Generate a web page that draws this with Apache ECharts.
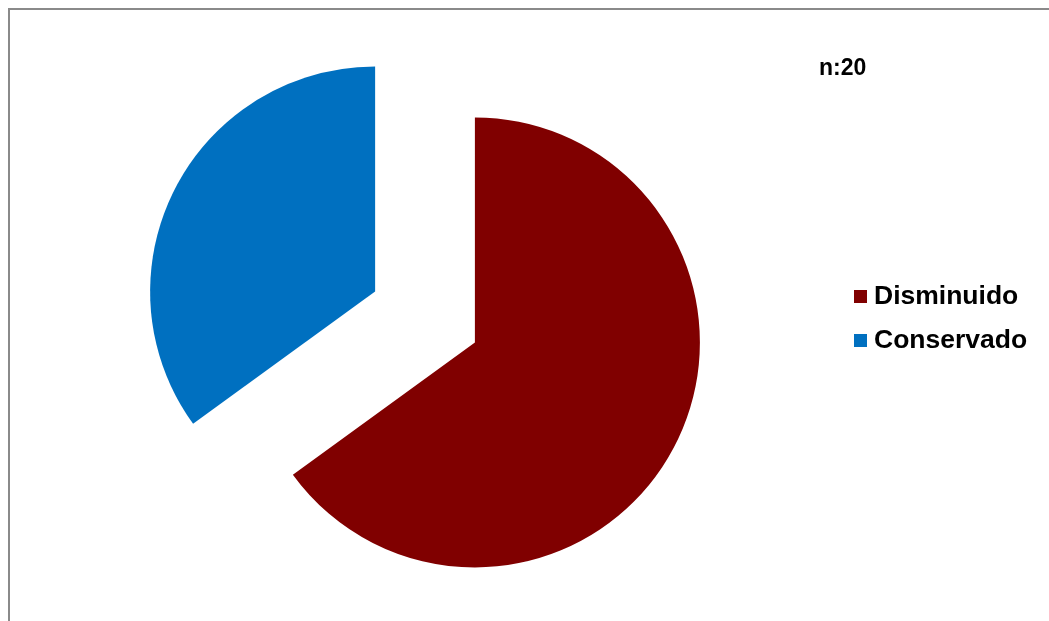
<!DOCTYPE html>
<html>
<head>
<meta charset="utf-8">
<script src="https://cdn.jsdelivr.net/npm/echarts@6/dist/echarts.min.js"></script>
<style>
  html, body { margin: 0; padding: 0; background: #ffffff; }
  #chart { width: 1049px; height: 621px; }
</style>
</head>
<body>
<div id="chart"></div>
<script>
// Categories, counts and colours of the pie
const categories = ['Disminuido', 'Conservado'];
const counts = [13, 7];
const colors = ['#800000', '#0070C0'];
const sampleLabel = 'n:20';

const chart = echarts.init(document.getElementById('chart'), null, { renderer: 'canvas' });

const pieData = categories.map((name, i) => ({
  name: name,
  value: counts[i],
  selected: true,
  itemStyle: { color: colors[i] }
}));

chart.setOption({
  backgroundColor: '#ffffff',
  animation: false,
  title: {
    text: sampleLabel,
    left: 819,
    top: 57,
    padding: 0,
    textStyle: { fontFamily: 'Liberation Sans, Arial, sans-serif', fontSize: 23, fontWeight: 'bold', color: '#000000' }
  },
  legend: {
    orient: 'vertical',
    left: 854,
    top: 283,
    padding: 0,
    itemWidth: 13,
    itemHeight: 13,
    itemGap: 17,
    icon: 'rect',
    data: categories,
    selectedMode: false,
    textStyle: {
      fontFamily: 'Liberation Sans, Arial, sans-serif',
      fontSize: 26.5,
      fontWeight: 'bold',
      color: '#000000',
      lineHeight: 27,
      padding: [0, 0, 0, 2]
    }
  },
  graphic: [{
    type: 'rect',
    silent: true,
    z: -1,
    shape: { x: 9, y: 9, width: 1200, height: 800 },
    style: { fill: 'none', stroke: '#8a8a8a', lineWidth: 2 }
  }],
  series: [{
    type: 'pie',
    center: [425, 317],
    radius: 225,
    startAngle: 90,
    clockwise: true,
    selectedMode: 'multiple',
    selectedOffset: 56,
    label: { show: false },
    labelLine: { show: false },
    emphasis: { disabled: true },
    itemStyle: { borderWidth: 0 },
    data: pieData
  }]
});
</script>
</body>
</html>
